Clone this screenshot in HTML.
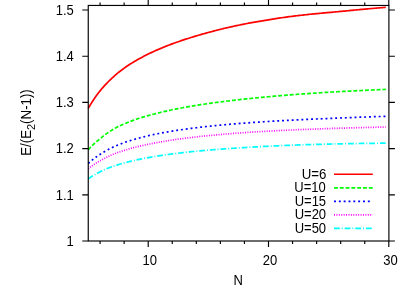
<!DOCTYPE html><html><head><meta charset="utf-8"><style>html,body{margin:0;padding:0;background:#fff}svg{display:block}g.t{filter:grayscale(1)}text{font-family:"Liberation Sans",sans-serif;font-size:14px;fill:#000}</style></head><body>
<svg width="415" height="290" viewBox="0 0 415 290">
<rect width="415" height="290" fill="#fff"/>
<path d="M88.25,241.00h-6M388.90,241.00h6M88.25,194.80h-6M388.90,194.80h6M88.25,148.60h-6M388.90,148.60h6M88.25,102.40h-6M388.90,102.40h6M88.25,56.20h-6M388.90,56.20h6M88.25,10.00h-6M388.90,10.00h6M100.08,241.00v3M100.08,5.45v-3M124.14,241.00v3M124.14,5.45v-3M148.20,241.00v6M148.20,5.45v-6M172.26,241.00v3M172.26,5.45v-3M196.32,241.00v3M196.32,5.45v-3M220.38,241.00v3M220.38,5.45v-3M244.44,241.00v3M244.44,5.45v-3M268.50,241.00v6M268.50,5.45v-6M292.56,241.00v3M292.56,5.45v-3M316.62,241.00v3M316.62,5.45v-3M340.68,241.00v3M340.68,5.45v-3M364.74,241.00v3M364.74,5.45v-3M388.80,241.00v6M388.80,5.45v-6" stroke="#000" stroke-width="1.15" fill="none"/>
<path d="M88.25,108.37 L89.75,105.78 L91.25,103.32 L92.75,100.97 L94.25,98.73 L95.75,96.58 L97.25,94.52 L98.75,92.54 L100.25,90.64 L101.75,88.83 L103.25,87.09 L104.75,85.42 L106.25,83.80 L107.75,82.25 L109.25,80.75 L110.75,79.29 L112.25,77.88 L113.75,76.52 L115.25,75.20 L116.75,73.92 L118.25,72.68 L119.75,71.48 L121.25,70.32 L122.75,69.20 L124.25,68.11 L125.75,67.05 L127.25,66.03 L128.75,65.03 L130.25,64.06 L131.75,63.12 L133.25,62.20 L134.75,61.31 L136.25,60.43 L137.75,59.58 L139.25,58.75 L140.75,57.93 L142.25,57.13 L143.75,56.35 L145.25,55.58 L146.75,54.83 L148.25,54.08 L149.75,53.35 L151.25,52.63 L152.75,51.93 L154.25,51.24 L155.75,50.56 L157.25,49.89 L158.75,49.24 L160.25,48.60 L161.75,47.97 L163.25,47.35 L164.75,46.74 L166.25,46.14 L167.75,45.56 L169.25,44.98 L170.75,44.41 L172.25,43.85 L173.75,43.30 L175.25,42.76 L176.75,42.23 L178.25,41.70 L179.75,41.18 L181.25,40.67 L182.75,40.17 L184.25,39.67 L185.75,39.18 L187.25,38.70 L188.75,38.22 L190.25,37.74 L191.75,37.28 L193.25,36.82 L194.75,36.36 L196.25,35.91 L197.75,35.47 L199.25,35.03 L200.75,34.60 L202.25,34.18 L203.75,33.76 L205.25,33.34 L206.75,32.93 L208.25,32.53 L209.75,32.12 L211.25,31.72 L212.75,31.32 L214.25,30.93 L215.75,30.54 L217.25,30.15 L218.75,29.77 L220.25,29.39 L221.75,29.02 L223.25,28.65 L224.75,28.29 L226.25,27.93 L227.75,27.58 L229.25,27.23 L230.75,26.89 L232.25,26.56 L233.75,26.23 L235.25,25.91 L236.75,25.59 L238.25,25.28 L239.75,24.98 L241.25,24.67 L242.75,24.37 L244.25,24.08 L245.75,23.78 L247.25,23.49 L248.75,23.21 L250.25,22.93 L251.75,22.65 L253.25,22.37 L254.75,22.10 L256.25,21.83 L257.75,21.57 L259.25,21.30 L260.75,21.05 L262.25,20.79 L263.75,20.54 L265.25,20.29 L266.75,20.04 L268.25,19.80 L269.75,19.56 L271.25,19.32 L272.75,19.09 L274.25,18.86 L275.75,18.63 L277.25,18.40 L278.75,18.18 L280.25,17.96 L281.75,17.74 L283.25,17.53 L284.75,17.32 L286.25,17.11 L287.75,16.90 L289.25,16.70 L290.75,16.50 L292.25,16.30 L293.75,16.11 L295.25,15.93 L296.75,15.75 L298.25,15.57 L299.75,15.39 L301.25,15.22 L302.75,15.05 L304.25,14.89 L305.75,14.73 L307.25,14.57 L308.75,14.42 L310.25,14.26 L311.75,14.11 L313.25,13.97 L314.75,13.82 L316.25,13.68 L317.75,13.53 L319.25,13.39 L320.75,13.25 L322.25,13.11 L323.75,12.97 L325.25,12.84 L326.75,12.70 L328.25,12.56 L329.75,12.43 L331.25,12.29 L332.75,12.16 L334.25,12.02 L335.75,11.88 L337.25,11.74 L338.75,11.60 L340.25,11.46 L341.75,11.32 L343.25,11.18 L344.75,11.04 L346.25,10.89 L347.75,10.75 L349.25,10.60 L350.75,10.46 L352.25,10.31 L353.75,10.17 L355.25,10.02 L356.75,9.88 L358.25,9.73 L359.75,9.59 L361.25,9.45 L362.75,9.31 L364.25,9.17 L365.75,9.03 L367.25,8.90 L368.75,8.76 L370.25,8.63 L371.75,8.50 L373.25,8.37 L374.75,8.24 L376.25,8.11 L377.75,7.99 L379.25,7.86 L380.75,7.73 L382.25,7.61 L383.75,7.49 L385.25,7.36 L385.80,7.32" stroke="#ff0000" stroke-width="1.7" fill="none"/>
<path d="M88.25,149.71 L89.75,148.09 L91.25,146.55 L92.75,145.09 L94.25,143.69 L95.75,142.35 L97.25,141.07 L98.75,139.83 L100.25,138.59 L101.75,137.37 L103.25,136.17 L104.75,135.01 L106.25,133.90 L107.75,132.84 L109.25,131.85 L110.75,130.88 L112.25,129.94 L113.75,129.04 L115.25,128.17 L116.75,127.35 L118.25,126.57 L119.75,125.85 L121.25,125.16 L122.75,124.50 L124.25,123.86 L125.75,123.23 L127.25,122.63 L128.75,122.04 L130.25,121.46 L131.75,120.90 L133.25,120.36 L134.75,119.83 L136.25,119.31 L137.75,118.81 L139.25,118.31 L140.75,117.83 L142.25,117.36 L143.75,116.90 L145.25,116.46 L146.75,116.02 L148.25,115.59 L149.75,115.17 L151.25,114.76 L152.75,114.35 L154.25,113.96 L155.75,113.57 L157.25,113.19 L158.75,112.82 L160.25,112.46 L161.75,112.10 L163.25,111.75 L164.75,111.41 L166.25,111.07 L167.75,110.74 L169.25,110.41 L170.75,110.09" stroke="#00ff00" stroke-width="1.7" fill="none" stroke-dasharray="3.810,1.905" stroke-dashoffset="0.000"/>
<path d="M170.75,110.09 L172.25,109.78 L173.75,109.47 L175.25,109.16 L176.75,108.87 L178.25,108.57 L179.75,108.28 L181.25,108.00 L182.75,107.72 L184.25,107.44 L185.75,107.17 L187.25,106.91 L188.75,106.65 L190.25,106.39 L191.75,106.13 L193.25,105.88 L194.75,105.64 L196.25,105.39 L197.75,105.15 L199.25,104.92 L200.75,104.68 L202.25,104.45 L203.75,104.23 L205.25,104.01 L206.75,103.79 L208.25,103.57 L209.75,103.36 L211.25,103.15 L212.75,102.94 L214.25,102.73 L215.75,102.53 L217.25,102.33 L218.75,102.13 L220.25,101.94 L221.75,101.75 L223.25,101.56 L224.75,101.37 L226.25,101.18 L227.75,101.00 L229.25,100.82 L230.75,100.64 L232.25,100.46 L233.75,100.29 L235.25,100.11 L236.75,99.94 L238.25,99.77 L239.75,99.60 L241.25,99.44 L242.75,99.27 L244.25,99.11 L245.75,98.95 L247.25,98.79 L248.75,98.63 L250.25,98.48 L251.75,98.33 L253.25,98.17 L254.75,98.02 L256.25,97.87 L257.75,97.73 L259.25,97.58 L260.75,97.43 L262.25,97.29 L263.75,97.15 L265.25,97.01 L266.75,96.87 L268.25,96.73 L269.75,96.60 L271.25,96.46 L272.75,96.33 L274.25,96.20 L275.75,96.07 L277.25,95.94 L278.75,95.81 L280.25,95.69 L281.75,95.56 L283.25,95.44 L284.75,95.32 L286.25,95.20 L287.75,95.08 L289.25,94.96 L290.75,94.84 L292.25,94.72 L293.75,94.61 L295.25,94.50 L296.75,94.38 L298.25,94.27 L299.75,94.16 L301.25,94.05 L302.75,93.95 L304.25,93.84 L305.75,93.74 L307.25,93.63 L308.75,93.53 L310.25,93.43 L311.75,93.33 L313.25,93.23 L314.75,93.13 L316.25,93.03 L317.75,92.94 L319.25,92.84 L320.75,92.74 L322.25,92.65 L323.75,92.56 L325.25,92.47 L326.75,92.37 L328.25,92.28 L329.75,92.20 L331.25,92.11 L332.75,92.02 L334.25,91.93 L335.75,91.85 L337.25,91.76 L338.75,91.68 L340.25,91.59 L341.75,91.51 L343.25,91.43 L344.75,91.35 L346.25,91.27 L347.75,91.19 L349.25,91.11 L350.75,91.03 L352.25,90.95 L353.75,90.88 L355.25,90.80 L356.75,90.72 L358.25,90.65 L359.75,90.58 L361.25,90.50 L362.75,90.43 L364.25,90.36 L365.75,90.29 L367.25,90.22 L368.75,90.15 L370.25,90.08 L371.75,90.01 L373.25,89.94 L374.75,89.88 L376.25,89.81 L377.75,89.74 L379.25,89.68 L380.75,89.61 L382.25,89.55 L383.75,89.49 L385.25,89.42 L385.80,89.40" stroke="#00ff00" stroke-width="1.7" fill="none" stroke-dasharray="3.868,1.934" stroke-dashoffset="1.810"/>
<path d="M88.25,163.51 L89.75,162.13 L91.25,160.82 L92.75,159.59 L94.25,158.42 L95.75,157.30 L97.25,156.23 L98.75,155.20 L100.25,154.22 L101.75,153.27 L103.25,152.35 L104.75,151.46 L106.25,150.61 L107.75,149.78 L109.25,148.99 L110.75,148.23 L112.25,147.50 L113.75,146.80 L115.25,146.13 L116.75,145.49 L118.25,144.87 L119.75,144.27 L121.25,143.70 L122.75,143.13 L124.25,142.59 L125.75,142.07 L127.25,141.56 L128.75,141.06 L130.25,140.58 L131.75,140.12 L133.25,139.66 L134.75,139.22 L136.25,138.79 L137.75,138.38 L139.25,137.97 L140.75,137.58 L142.25,137.19 L143.75,136.82 L145.25,136.45 L146.75,136.10 L148.25,135.75 L149.75,135.41 L151.25,135.08 L152.75,134.75 L154.25,134.43 L155.75,134.12 L157.25,133.82 L158.75,133.52 L160.25,133.23 L161.75,132.95 L163.25,132.67 L164.75,132.40 L166.25,132.13 L167.75,131.87 L169.25,131.61 L170.75,131.36" stroke="#0000ff" stroke-width="1.7" fill="none" stroke-dasharray="1.905,2.857" stroke-dashoffset="0.000"/>
<path d="M170.75,131.36 L172.25,131.12 L173.75,130.88 L175.25,130.64 L176.75,130.41 L178.25,130.18 L179.75,129.95 L181.25,129.73 L182.75,129.52 L184.25,129.31 L185.75,129.10 L187.25,128.90 L188.75,128.69 L190.25,128.50 L191.75,128.30 L193.25,128.11 L194.75,127.93 L196.25,127.74 L197.75,127.56 L199.25,127.38 L200.75,127.21 L202.25,127.03 L203.75,126.86 L205.25,126.70 L206.75,126.53 L208.25,126.37 L209.75,126.21 L211.25,126.05 L212.75,125.90 L214.25,125.75 L215.75,125.60 L217.25,125.45 L218.75,125.30 L220.25,125.16 L221.75,125.02 L223.25,124.88 L224.75,124.74 L226.25,124.61 L227.75,124.47 L229.25,124.34 L230.75,124.21 L232.25,124.09 L233.75,123.96 L235.25,123.84 L236.75,123.71 L238.25,123.59 L239.75,123.47 L241.25,123.36 L242.75,123.24 L244.25,123.12 L245.75,123.01 L247.25,122.90 L248.75,122.79 L250.25,122.68 L251.75,122.58 L253.25,122.47 L254.75,122.37 L256.25,122.26 L257.75,122.16 L259.25,122.06 L260.75,121.96 L262.25,121.86 L263.75,121.77 L265.25,121.67 L266.75,121.58 L268.25,121.48 L269.75,121.39 L271.25,121.30 L272.75,121.21 L274.25,121.12 L275.75,121.04 L277.25,120.95 L278.75,120.86 L280.25,120.78 L281.75,120.70 L283.25,120.61 L284.75,120.53 L286.25,120.45 L287.75,120.37 L289.25,120.29 L290.75,120.21 L292.25,120.14 L293.75,120.06 L295.25,119.98 L296.75,119.91 L298.25,119.84 L299.75,119.76 L301.25,119.69 L302.75,119.62 L304.25,119.55 L305.75,119.48 L307.25,119.41 L308.75,119.34 L310.25,119.27 L311.75,119.21 L313.25,119.14 L314.75,119.07 L316.25,119.01 L317.75,118.94 L319.25,118.87 L320.75,118.81 L322.25,118.74 L323.75,118.68 L325.25,118.61 L326.75,118.55 L328.25,118.49 L329.75,118.42 L331.25,118.36 L332.75,118.30 L334.25,118.23 L335.75,118.17 L337.25,118.11 L338.75,118.05 L340.25,117.99 L341.75,117.93 L343.25,117.87 L344.75,117.81 L346.25,117.75 L347.75,117.69 L349.25,117.63 L350.75,117.57 L352.25,117.51 L353.75,117.45 L355.25,117.40 L356.75,117.34 L358.25,117.28 L359.75,117.22 L361.25,117.17 L362.75,117.11 L364.25,117.06 L365.75,117.00 L367.25,116.95 L368.75,116.89 L370.25,116.84 L371.75,116.78 L373.25,116.73 L374.75,116.68 L376.25,116.62 L377.75,116.57 L379.25,116.52 L380.75,116.47 L382.25,116.42 L383.75,116.36 L385.25,116.31 L385.80,116.30" stroke="#0000ff" stroke-width="1.7" fill="none" stroke-dasharray="1.934,2.901" stroke-dashoffset="4.168"/>
<path d="M88.25,168.84 L89.75,167.63 L91.25,166.49 L92.75,165.42 L94.25,164.40 L95.75,163.43 L97.25,162.50 L98.75,161.60 L100.25,160.74 L101.75,159.91 L103.25,159.11 L104.75,158.33 L106.25,157.55 L107.75,156.78 L109.25,156.04 L110.75,155.32 L112.25,154.64 L113.75,154.01 L115.25,153.43 L116.75,152.88 L118.25,152.34 L119.75,151.82 L121.25,151.32 L122.75,150.84 L124.25,150.36 L125.75,149.90 L127.25,149.46 L128.75,149.02 L130.25,148.60 L131.75,148.19 L133.25,147.79 L134.75,147.40 L136.25,147.02 L137.75,146.65 L139.25,146.29 L140.75,145.94 L142.25,145.59 L143.75,145.25 L145.25,144.92 L146.75,144.60 L148.25,144.29 L149.75,143.98 L151.25,143.68 L152.75,143.38 L154.25,143.10 L155.75,142.81 L157.25,142.54 L158.75,142.26 L160.25,142.00 L161.75,141.74 L163.25,141.48 L164.75,141.23 L166.25,140.99 L167.75,140.74 L169.25,140.51 L170.75,140.28" stroke="#ff00ff" stroke-width="1.7" fill="none" stroke-dasharray="0.952,1.429" stroke-dashoffset="0.000"/>
<path d="M170.75,140.28 L172.25,140.05 L173.75,139.82 L175.25,139.60 L176.75,139.39 L178.25,139.18 L179.75,138.97 L181.25,138.76 L182.75,138.56 L184.25,138.37 L185.75,138.17 L187.25,137.98 L188.75,137.79 L190.25,137.61 L191.75,137.43 L193.25,137.25 L194.75,137.08 L196.25,136.90 L197.75,136.74 L199.25,136.57 L200.75,136.41 L202.25,136.24 L203.75,136.09 L205.25,135.93 L206.75,135.78 L208.25,135.63 L209.75,135.48 L211.25,135.33 L212.75,135.19 L214.25,135.05 L215.75,134.91 L217.25,134.77 L218.75,134.64 L220.25,134.50 L221.75,134.37 L223.25,134.24 L224.75,134.12 L226.25,133.99 L227.75,133.87 L229.25,133.75 L230.75,133.63 L232.25,133.51 L233.75,133.39 L235.25,133.28 L236.75,133.17 L238.25,133.06 L239.75,132.95 L241.25,132.84 L242.75,132.73 L244.25,132.63 L245.75,132.53 L247.25,132.42 L248.75,132.32 L250.25,132.23 L251.75,132.13 L253.25,132.03 L254.75,131.94 L256.25,131.84 L257.75,131.75 L259.25,131.66 L260.75,131.57 L262.25,131.48 L263.75,131.40 L265.25,131.31 L266.75,131.23 L268.25,131.14 L269.75,131.06 L271.25,130.98 L272.75,130.90 L274.25,130.82 L275.75,130.74 L277.25,130.67 L278.75,130.59 L280.25,130.52 L281.75,130.44 L283.25,130.37 L284.75,130.30 L286.25,130.23 L287.75,130.16 L289.25,130.09 L290.75,130.02 L292.25,129.96 L293.75,129.89 L295.25,129.83 L296.75,129.76 L298.25,129.70 L299.75,129.64 L301.25,129.58 L302.75,129.52 L304.25,129.46 L305.75,129.40 L307.25,129.34 L308.75,129.28 L310.25,129.23 L311.75,129.17 L313.25,129.12 L314.75,129.06 L316.25,129.01 L317.75,128.96 L319.25,128.90 L320.75,128.85 L322.25,128.80 L323.75,128.75 L325.25,128.69 L326.75,128.64 L328.25,128.59 L329.75,128.54 L331.25,128.49 L332.75,128.44 L334.25,128.40 L335.75,128.35 L337.25,128.30 L338.75,128.25 L340.25,128.21 L341.75,128.16 L343.25,128.11 L344.75,128.07 L346.25,128.02 L347.75,127.98 L349.25,127.94 L350.75,127.89 L352.25,127.85 L353.75,127.81 L355.25,127.76 L356.75,127.72 L358.25,127.68 L359.75,127.64 L361.25,127.60 L362.75,127.56 L364.25,127.52 L365.75,127.48 L367.25,127.44 L368.75,127.41 L370.25,127.37 L371.75,127.33 L373.25,127.29 L374.75,127.26 L376.25,127.22 L377.75,127.19 L379.25,127.15 L380.75,127.12 L382.25,127.08 L383.75,127.05 L385.25,127.02 L385.80,127.01" stroke="#ff00ff" stroke-width="1.7" fill="none" stroke-dasharray="0.967,1.450" stroke-dashoffset="0.231"/>
<path d="M88.25,178.92 L89.75,177.84 L91.25,176.82 L92.75,175.85 L94.25,174.92 L95.75,174.05 L97.25,173.21 L98.75,172.41 L100.25,171.65 L101.75,170.92 L103.25,170.22 L104.75,169.55 L106.25,168.91 L107.75,168.30 L109.25,167.72 L110.75,167.16 L112.25,166.62 L113.75,166.09 L115.25,165.59 L116.75,165.11 L118.25,164.64 L119.75,164.19 L121.25,163.75 L122.75,163.32 L124.25,162.91 L125.75,162.51 L127.25,162.13 L128.75,161.75 L130.25,161.38 L131.75,161.03 L133.25,160.68 L134.75,160.34 L136.25,160.01 L137.75,159.68 L139.25,159.36 L140.75,159.05 L142.25,158.75 L143.75,158.45 L145.25,158.16 L146.75,157.88 L148.25,157.60 L149.75,157.33 L151.25,157.07 L152.75,156.81 L154.25,156.56 L155.75,156.31 L157.25,156.07 L158.75,155.83 L160.25,155.60 L161.75,155.37 L163.25,155.15 L164.75,154.93 L166.25,154.72 L167.75,154.51 L169.25,154.31 L170.75,154.11" stroke="#00ffff" stroke-width="1.7" fill="none" stroke-dasharray="5.715,1.905,0.952,1.905" stroke-dashoffset="0.000"/>
<path d="M170.75,154.11 L172.25,153.91 L173.75,153.72 L175.25,153.53 L176.75,153.34 L178.25,153.16 L179.75,152.98 L181.25,152.80 L182.75,152.63 L184.25,152.46 L185.75,152.30 L187.25,152.13 L188.75,151.97 L190.25,151.82 L191.75,151.66 L193.25,151.51 L194.75,151.36 L196.25,151.21 L197.75,151.07 L199.25,150.93 L200.75,150.79 L202.25,150.65 L203.75,150.52 L205.25,150.38 L206.75,150.25 L208.25,150.13 L209.75,150.00 L211.25,149.88 L212.75,149.75 L214.25,149.63 L215.75,149.52 L217.25,149.40 L218.75,149.28 L220.25,149.17 L221.75,149.06 L223.25,148.95 L224.75,148.84 L226.25,148.74 L227.75,148.63 L229.25,148.53 L230.75,148.43 L232.25,148.33 L233.75,148.23 L235.25,148.13 L236.75,148.03 L238.25,147.94 L239.75,147.84 L241.25,147.75 L242.75,147.66 L244.25,147.57 L245.75,147.48 L247.25,147.39 L248.75,147.30 L250.25,147.21 L251.75,147.12 L253.25,147.04 L254.75,146.95 L256.25,146.87 L257.75,146.79 L259.25,146.71 L260.75,146.63 L262.25,146.55 L263.75,146.47 L265.25,146.39 L266.75,146.32 L268.25,146.24 L269.75,146.17 L271.25,146.09 L272.75,146.02 L274.25,145.95 L275.75,145.88 L277.25,145.81 L278.75,145.75 L280.25,145.68 L281.75,145.61 L283.25,145.55 L284.75,145.48 L286.25,145.42 L287.75,145.36 L289.25,145.30 L290.75,145.24 L292.25,145.18 L293.75,145.12 L295.25,145.07 L296.75,145.01 L298.25,144.96 L299.75,144.91 L301.25,144.85 L302.75,144.80 L304.25,144.75 L305.75,144.71 L307.25,144.66 L308.75,144.61 L310.25,144.57 L311.75,144.52 L313.25,144.48 L314.75,144.44 L316.25,144.40 L317.75,144.36 L319.25,144.32 L320.75,144.28 L322.25,144.24 L323.75,144.20 L325.25,144.16 L326.75,144.12 L328.25,144.09 L329.75,144.05 L331.25,144.02 L332.75,143.98 L334.25,143.95 L335.75,143.92 L337.25,143.89 L338.75,143.86 L340.25,143.82 L341.75,143.79 L343.25,143.76 L344.75,143.74 L346.25,143.71 L347.75,143.68 L349.25,143.65 L350.75,143.63 L352.25,143.60 L353.75,143.58 L355.25,143.55 L356.75,143.53 L358.25,143.50 L359.75,143.48 L361.25,143.46 L362.75,143.44 L364.25,143.42 L365.75,143.40 L367.25,143.38 L368.75,143.36 L370.25,143.34 L371.75,143.32 L373.25,143.30 L374.75,143.29 L376.25,143.27 L377.75,143.25 L379.25,143.24 L380.75,143.22 L382.25,143.21 L383.75,143.20 L385.25,143.18 L385.80,143.18" stroke="#00ffff" stroke-width="1.7" fill="none" stroke-dasharray="5.802,1.934,0.967,1.934" stroke-dashoffset="3.219"/>
<rect x="88.25" y="5.45" width="300.65" height="235.55" fill="none" stroke="#000" stroke-width="1.15"/>
<g class="t">
<text transform="translate(73.80 245.80) scale(0.93 1)" text-anchor="end">1</text>
<text transform="translate(73.80 199.60) scale(0.93 1)" text-anchor="end">1.1</text>
<text transform="translate(73.80 153.40) scale(0.93 1)" text-anchor="end">1.2</text>
<text transform="translate(73.80 107.20) scale(0.93 1)" text-anchor="end">1.3</text>
<text transform="translate(73.80 61.00) scale(0.93 1)" text-anchor="end">1.4</text>
<text transform="translate(73.80 14.80) scale(0.93 1)" text-anchor="end">1.5</text>
<text transform="translate(149.80 265.30) scale(0.93 1)" text-anchor="middle">10</text>
<text transform="translate(270.10 265.30) scale(0.93 1)" text-anchor="middle">20</text>
<text transform="translate(390.40 265.30) scale(0.93 1)" text-anchor="middle">30</text>
<text transform="translate(238.30 285.00) scale(0.93 1)" text-anchor="middle">N</text>
<text transform="translate(30.70,122.50) rotate(-90) scale(0.95 1)" text-anchor="middle">E/(E<tspan font-size="11.48px" dy="4.48">2</tspan><tspan dy="-4.48">(N-1))</tspan></text>
<text transform="translate(326.50 178.70) scale(0.95 1)" text-anchor="end">U=6</text>
<text transform="translate(325.80 192.25) scale(0.93 1)" text-anchor="end">U=10</text>
<text transform="translate(326.10 205.80) scale(0.93 1)" text-anchor="end">U=15</text>
<text transform="translate(326.10 219.35) scale(0.93 1)" text-anchor="end">U=20</text>
<text transform="translate(326.10 232.90) scale(0.93 1)" text-anchor="end">U=50</text>
</g>
<path d="M334.00,174.25H372.80" stroke="#ff0000" stroke-width="1.7" fill="none"/>
<path d="M334.00,187.80H372.80" stroke="#00ff00" stroke-width="1.7" fill="none" stroke-dasharray="3.868,1.934"/>
<path d="M334.00,201.35H372.30" stroke="#0000ff" stroke-width="1.7" fill="none" stroke-dasharray="1.934,2.901"/>
<path d="M334.00,214.90H372.80" stroke="#ff00ff" stroke-width="1.7" fill="none" stroke-dasharray="0.967,1.450"/>
<path d="M334.00,228.45H372.80" stroke="#00ffff" stroke-width="1.7" fill="none" stroke-dasharray="5.802,1.934,0.967,1.934"/>
</svg></body></html>
